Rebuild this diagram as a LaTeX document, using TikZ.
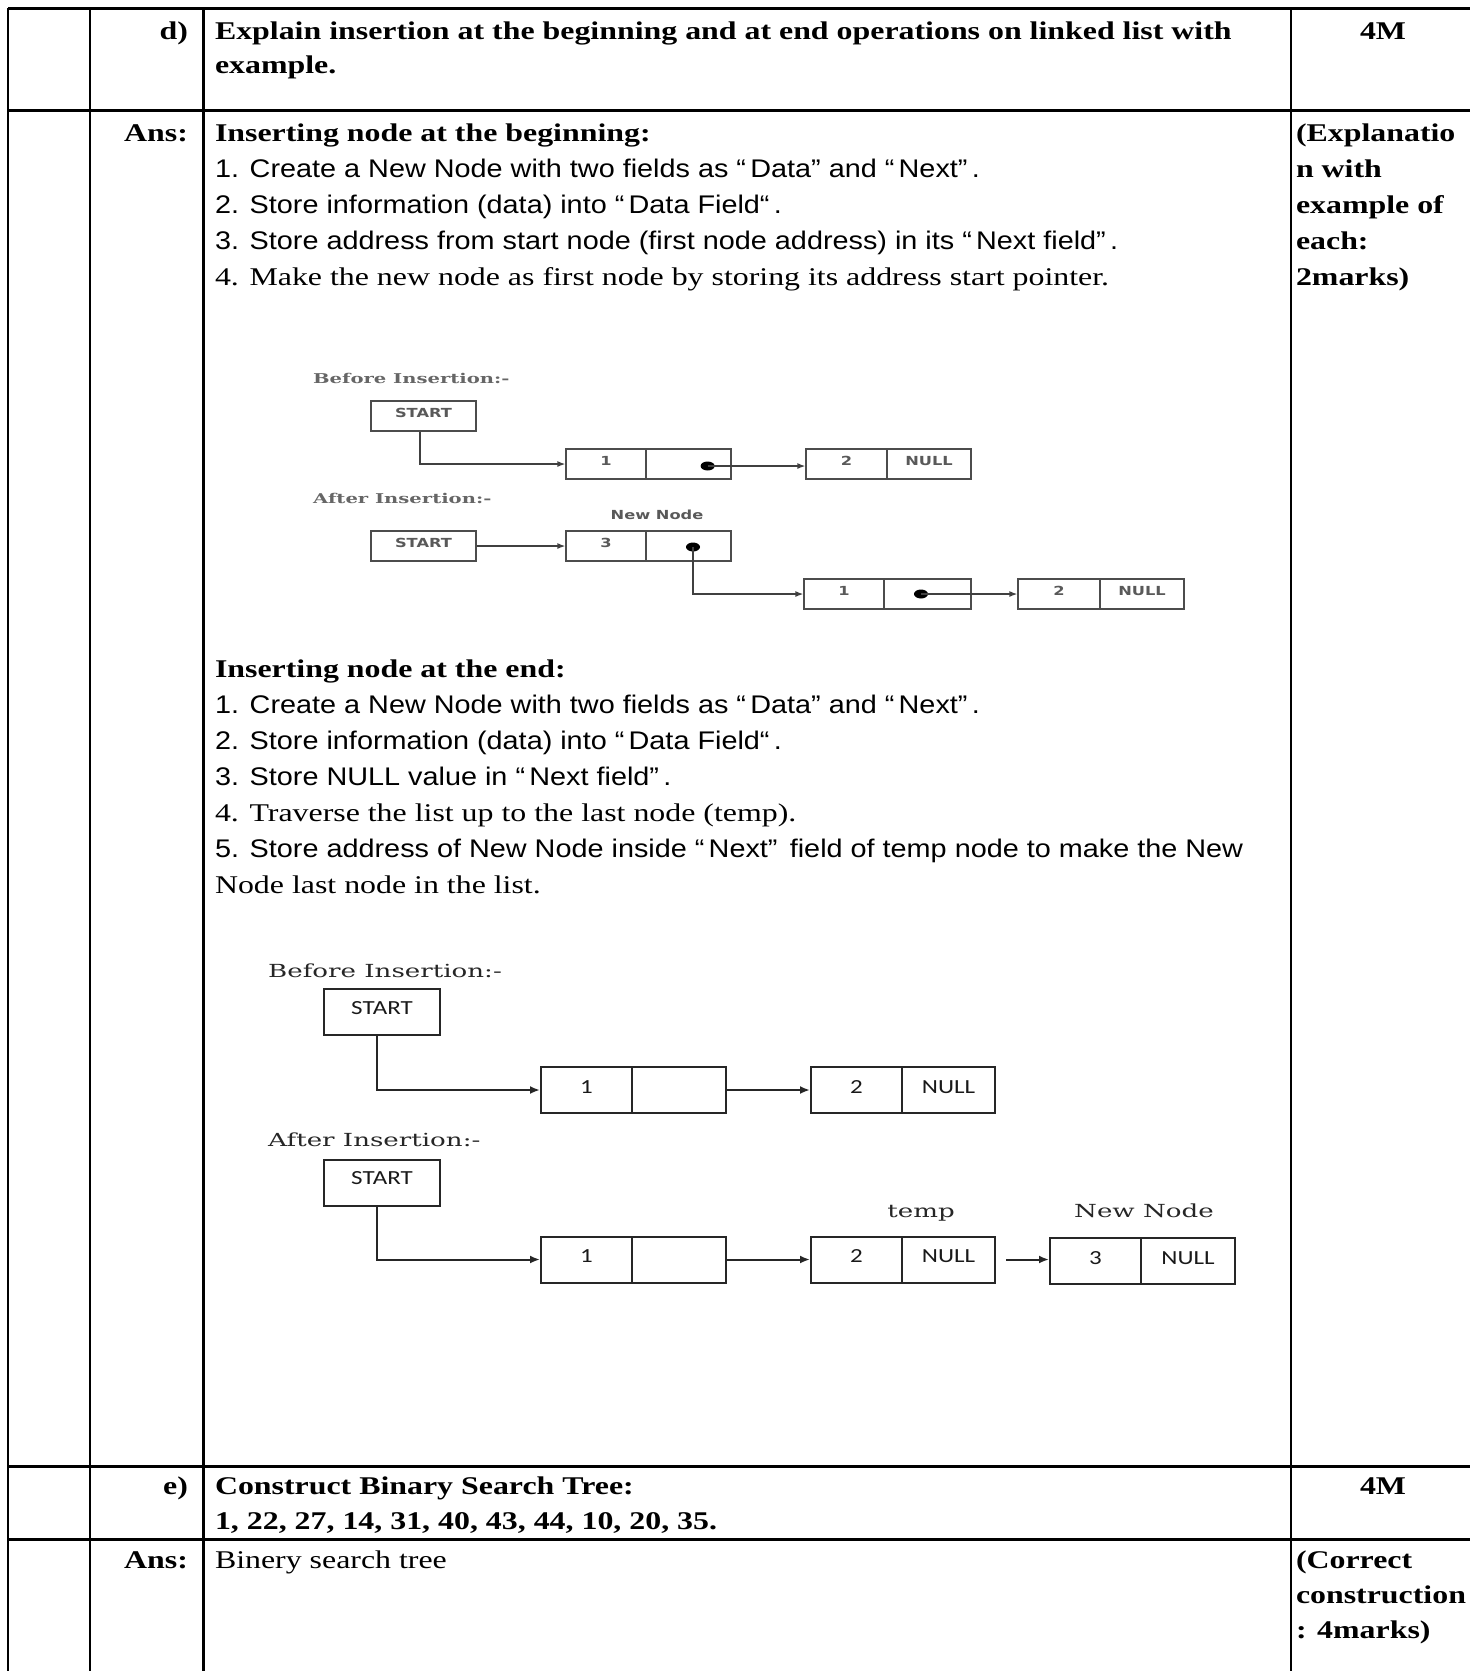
\documentclass[tikz,border=0pt]{standalone}
\usepackage{fontspec}
\setmainfont{Liberation Serif}[FakeStretch=1.25]
\newfontfamily\arialf{Liberation Sans}[FakeStretch=1.13]
\newfontfamily\figsans{DejaVu Sans}[FakeStretch=1.3]
\newfontfamily\figserif{DejaVu Serif}[FakeStretch=1.45]
\newfontfamily\figcal{Carlito}[FakeStretch=1.25]
\usetikzlibrary{arrows.meta,shapes.geometric}

\begin{document}
\begin{tikzpicture}[x=1pt,y=-1pt,
  rowrule/.style={line width=3pt},
  colrule/.style={line width=2.2pt},
  body/.style={anchor=base west,inner sep=0pt,outer sep=0pt,font=\fontsize{25.5}{30}\selectfont},
  bodyb/.style={body,font=\fontsize{25.5}{30}\selectfont\bfseries},
  bodys/.style={body,font=\fontsize{25.5}{30}\selectfont\arialf},
  tagtext/.style={bodyb,anchor=base east},
  markstext/.style={bodyb,anchor=base},
  % small figure (insertion at the beginning)
  sbox/.style={draw=black!70,line width=1.3pt,minimum height=30pt,inner sep=0pt,
    text=black!65,font=\figsans\bfseries\fontsize{12.5}{14}\selectfont,text height=7pt,text depth=4pt},
  sarrow/.style={draw=black!75,line width=1.3pt,-{Latex[length=8pt,width=6pt]}},
  sdot/.style={ellipse,fill=black,minimum width=14pt,minimum height=9pt,inner sep=0pt},
  scap/.style={anchor=base west,inner sep=0pt,text=black!60,font=\figserif\bfseries\fontsize{13.5}{14}\selectfont},
  slabel/.style={anchor=base,inner sep=0pt,text=black!65,font=\figsans\bfseries\fontsize{12.5}{14}\selectfont},
  % large figure (insertion at the end)
  lbox/.style={draw=black!85,line width=2pt,minimum height=46pt,inner sep=0pt,
    text=black!90,font=\figcal\fontsize{20}{22}\selectfont,text height=9pt,text depth=3pt},
  lstart/.style={lbox,text height=8.5pt,text depth=3.6pt},
  larrow/.style={draw=black!85,line width=2pt,-{Latex[length=10pt,width=8pt]}},
  lcap/.style={anchor=base west,inner sep=0pt,text=black!85,font=\figserif\fontsize{18}{20}\selectfont},
]
\useasboundingbox (0,0) rectangle (1470,1671);

% ---------- table grid ----------
\draw[rowrule] (8,8) -- (1470,8);
\draw[rowrule] (8,110) -- (1470,110);
\draw[rowrule] (8,1466) -- (1470,1466);
\draw[rowrule] (8,1539) -- (1470,1539);
\draw[colrule] (8,8) -- (8,1671);
\draw[colrule] (90,8) -- (90,1671);
\draw[colrule] (203.5,8) -- (203.5,1671);
\draw[colrule] (1291,8) -- (1291,1671);

% ---------- question d ----------
\node[tagtext] (qd) at (188,39) {d)};
\node[bodyb] (qd1) at (215,39) {Explain insertion at the beginning and at end operations on linked list with};
\node[bodyb] (qd2) at (215,73) {example.};
\node[markstext] (md) at (1383,39) {4M};

% ---------- answer d ----------
\node[tagtext] (ad) at (188,141) {Ans:};
\node[bodyb] (h1) at (215,141) {Inserting node at the beginning:};
\node[bodys] (b1) at (215,177) {1. Create a New Node with two fields as “\,Data” and “\,Next”\,.};
\node[bodys] (b2) at (215,213) {2. Store information (data) into “\,Data Field“\,.};
\node[bodys] (b3) at (215,249) {3. Store address from start node (first node address) in its “\,Next field”\,.};
\node[body]  (b4) at (215,285) {4. Make the new node as first node by storing its address start pointer.};

\node[bodyb] (r1) at (1296,141) {(Explanatio};
\node[bodyb] (r2) at (1296,177) {n with};
\node[bodyb] (r3) at (1296,213) {example of};
\node[bodyb] (r4) at (1296,249) {each:};
\node[bodyb] (r5) at (1296,285) {2marks)};

% ---------- figure: insertion at the beginning ----------
\node[scap] (sb) at (313,383) {Before Insertion:-};
\node[sbox,minimum width=105pt] (S1) at (423.5,416) {START};
\node[sbox,minimum width=80pt] (A1d) at (606,464) {1};
\node[sbox,minimum width=85pt] (A1n) at (688.5,464) {};
\node[sbox,minimum width=81pt] (B1d) at (846.5,464) {2};
\node[sbox,minimum width=84pt] (B1n) at (929,464) {NULL};
\node[sdot] (dA) at (707.6,466) {};
\draw[sarrow] ([xshift=-3.5pt]S1.south) |- (A1d.west);
\draw[sarrow] (dA.center) -- (dA.center -| B1d.west);

\node[scap] (sa) at (313,503) {After Insertion:-};
\node[slabel] (snn) at (657,519) {New Node};
\node[sbox,minimum width=105pt] (S2) at (423.5,546) {START};
\node[sbox,minimum width=80pt] (Cd) at (606,546) {3};
\node[sbox,minimum width=85pt] (Cn) at (688.5,546) {};
\node[sdot] (dC) at (693,547) {};
\node[sbox,minimum width=80pt] (Dd) at (844,594) {1};
\node[sbox,minimum width=87pt] (Dn) at (927.5,594) {};
\node[sdot] (dD) at (921,594) {};
\node[sbox,minimum width=82pt] (Ed) at (1059,594) {2};
\node[sbox,minimum width=84pt] (En) at (1142,594) {NULL};
\draw[sarrow] (S2.east) -- (Cd.west);
\draw[sarrow] (dC.center) |- (Dd.west);
\draw[sarrow] (dD.center) -- (Ed.west);

% ---------- insertion at the end ----------
\node[bodyb] (h2) at (215,677) {Inserting node at the end:};
\node[bodys] (e1) at (215,713) {1. Create a New Node with two fields as “\,Data” and “\,Next”\,.};
\node[bodys] (e2) at (215,749) {2. Store information (data) into “\,Data Field“\,.};
\node[bodys] (e3) at (215,785) {3. Store NULL value in “\,Next field”\,.};
\node[body]  (e4) at (215,821) {4. Traverse the list up to the last node (temp).};
\node[bodys] (e5) at (215,857) {5. Store address of New Node inside “\,Next”\, field of temp node to make the New};
\node[body]  (e6) at (215,893) {Node last node in the list.};

% ---------- figure: insertion at the end ----------
\node[lcap] (lb) at (268,977) {Before Insertion:-};
\node[lstart,minimum width=116pt] (P1) at (382,1012) {START};
\node[lbox,minimum width=91pt] (Q1d) at (586.5,1090) {1};
\node[lbox,minimum width=94pt] (Q1n) at (679,1090) {};
\node[lbox,minimum width=91pt] (R1d) at (856.5,1090) {2};
\node[lbox,minimum width=93pt] (R1n) at (948.5,1090) {NULL};
\draw[larrow] ([xshift=-5pt]P1.south) |- (Q1d.west);
\draw[larrow] (Q1n.east) -- (R1d.west);

\node[lcap] (la) at (268,1146) {After Insertion:-};
\node[lstart,minimum width=116pt] (P2) at (382,1182.5) {START};
\node[lbox,minimum width=91pt] (Q2d) at (586.5,1259.5) {1};
\node[lbox,minimum width=94pt] (Q2n) at (679,1259.5) {};
\node[lbox,minimum width=91pt] (R2d) at (856.5,1259.5) {2};
\node[lbox,minimum width=93pt] (R2n) at (948.5,1259.5) {NULL};
\node[lcap,anchor=base] (tmp) at (921,1217) {temp};
\node[lcap,anchor=base] (lnn) at (1144,1217) {New Node};
\node[lbox,minimum width=91pt] (Td) at (1095.5,1261) {3};
\node[lbox,minimum width=94pt] (Tn) at (1188,1261) {NULL};
\draw[larrow] ([xshift=-5pt]P2.south) |- (Q2d.west);
\draw[larrow] (Q2n.east) -- (R2d.west);
\draw[larrow,shorten <=10pt] (R2n.east) -- (R2n.east -| Td.west);

% ---------- question e ----------
\node[tagtext] (qe) at (188,1494) {e)};
\node[bodyb] (qe1) at (215,1494) {Construct Binary Search Tree:};
\node[bodyb] (qe2) at (215,1529) {1, 22, 27, 14, 31, 40, 43, 44, 10, 20, 35.};
\node[markstext] (me) at (1383,1494) {4M};

% ---------- answer e ----------
\node[tagtext] (ae) at (188,1568) {Ans:};
\node[body] (ae1) at (215,1568) {Binery search tree};
\node[bodyb] (c1) at (1296,1568) {(Correct};
\node[bodyb] (c2) at (1296,1603) {construction};
\node[bodyb] (c3) at (1296,1638) {: 4marks)};
\end{tikzpicture}
\end{document}
